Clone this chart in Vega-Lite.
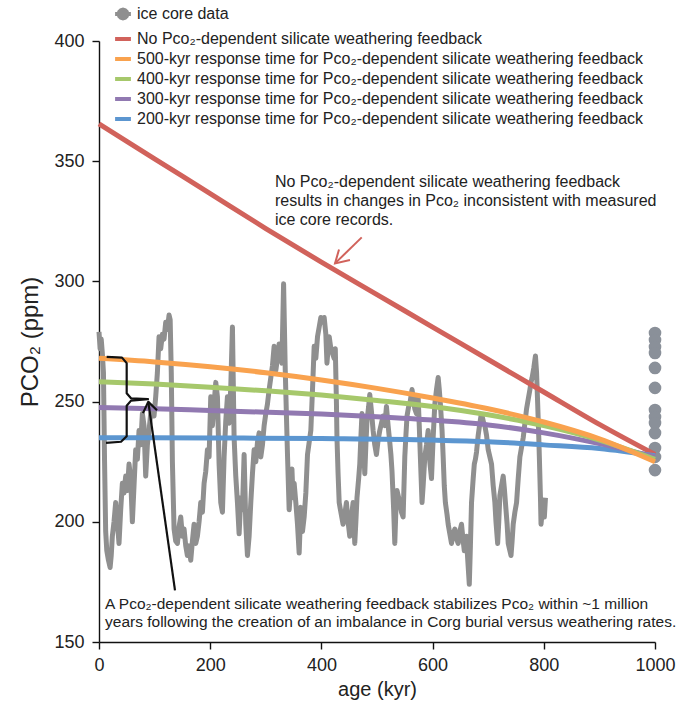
{
  "$schema": "https://vega.github.io/schema/vega-lite/v6.json",
  "width": 556,
  "height": 601,
  "autosize": {"type": "none"},
  "padding": {"left": 99, "top": 41, "right": 29, "bottom": 61},
  "config": {
    "view": {"stroke": null},
    "font": "Liberation Sans",
    "axis": {"domainColor": "#111", "tickColor": "#111", "labelColor": "#222", "titleColor": "#222", "domainWidth": 1.4, "tickWidth": 1.4, "grid": false, "labelFont": "Liberation Sans", "titleFont": "Liberation Sans", "titleFontWeight": "normal"}
  },
  "datasets": {
    "ice": [
      {"kyr":0,"ppm":279},{"kyr":2,"ppm":272},{"kyr":4,"ppm":276},{"kyr":6,"ppm":270},{"kyr":8,"ppm":262},{"kyr":10,"ppm":225},{"kyr":12,"ppm":196},{"kyr":14,"ppm":188},{"kyr":17,"ppm":184},{"kyr":20,"ppm":181},{"kyr":22,"ppm":186},{"kyr":24,"ppm":194},{"kyr":27,"ppm":200},{"kyr":30,"ppm":208},{"kyr":33,"ppm":200},{"kyr":36,"ppm":191},{"kyr":39,"ppm":205},{"kyr":42,"ppm":216},{"kyr":45,"ppm":212},{"kyr":48,"ppm":219},{"kyr":51,"ppm":213},{"kyr":54,"ppm":224},{"kyr":57,"ppm":218},{"kyr":60,"ppm":200},{"kyr":63,"ppm":215},{"kyr":66,"ppm":230},{"kyr":69,"ppm":226},{"kyr":72,"ppm":238},{"kyr":75,"ppm":232},{"kyr":78,"ppm":245},{"kyr":81,"ppm":240},{"kyr":84,"ppm":219},{"kyr":87,"ppm":232},{"kyr":90,"ppm":238},{"kyr":93,"ppm":245},{"kyr":96,"ppm":248},{"kyr":99,"ppm":244},{"kyr":102,"ppm":252},{"kyr":105,"ppm":262},{"kyr":108,"ppm":277},{"kyr":111,"ppm":272},{"kyr":114,"ppm":278},{"kyr":117,"ppm":276},{"kyr":120,"ppm":283},{"kyr":123,"ppm":280},{"kyr":126,"ppm":286},{"kyr":128,"ppm":284},{"kyr":130,"ppm":262},{"kyr":132,"ppm":225},{"kyr":135,"ppm":197},{"kyr":138,"ppm":192},{"kyr":141,"ppm":191},{"kyr":144,"ppm":198},{"kyr":147,"ppm":202},{"kyr":150,"ppm":194},{"kyr":153,"ppm":197},{"kyr":156,"ppm":190},{"kyr":159,"ppm":186},{"kyr":162,"ppm":190},{"kyr":165,"ppm":184},{"kyr":168,"ppm":192},{"kyr":171,"ppm":199},{"kyr":174,"ppm":191},{"kyr":177,"ppm":194},{"kyr":180,"ppm":200},{"kyr":183,"ppm":208},{"kyr":186,"ppm":204},{"kyr":189,"ppm":216},{"kyr":192,"ppm":221},{"kyr":195,"ppm":230},{"kyr":198,"ppm":227},{"kyr":201,"ppm":252},{"kyr":204,"ppm":240},{"kyr":207,"ppm":249},{"kyr":210,"ppm":258},{"kyr":213,"ppm":252},{"kyr":216,"ppm":224},{"kyr":219,"ppm":208},{"kyr":222,"ppm":204},{"kyr":225,"ppm":227},{"kyr":228,"ppm":242},{"kyr":231,"ppm":252},{"kyr":234,"ppm":241},{"kyr":237,"ppm":256},{"kyr":240,"ppm":281},{"kyr":243,"ppm":235},{"kyr":246,"ppm":219},{"kyr":249,"ppm":208},{"kyr":252,"ppm":195},{"kyr":255,"ppm":210},{"kyr":258,"ppm":205},{"kyr":261,"ppm":228},{"kyr":264,"ppm":199},{"kyr":267,"ppm":186},{"kyr":270,"ppm":194},{"kyr":273,"ppm":208},{"kyr":276,"ppm":220},{"kyr":279,"ppm":230},{"kyr":282,"ppm":225},{"kyr":285,"ppm":233},{"kyr":288,"ppm":237},{"kyr":291,"ppm":227},{"kyr":294,"ppm":232},{"kyr":297,"ppm":240},{"kyr":300,"ppm":245},{"kyr":303,"ppm":249},{"kyr":306,"ppm":255},{"kyr":309,"ppm":260},{"kyr":312,"ppm":265},{"kyr":315,"ppm":273},{"kyr":318,"ppm":263},{"kyr":321,"ppm":268},{"kyr":324,"ppm":274},{"kyr":327,"ppm":270},{"kyr":329,"ppm":266},{"kyr":332,"ppm":299},{"kyr":335,"ppm":263},{"kyr":337,"ppm":245},{"kyr":339,"ppm":228},{"kyr":342,"ppm":205},{"kyr":345,"ppm":215},{"kyr":347,"ppm":222},{"kyr":349,"ppm":210},{"kyr":351,"ppm":216},{"kyr":354,"ppm":208},{"kyr":357,"ppm":199},{"kyr":360,"ppm":187},{"kyr":363,"ppm":206},{"kyr":366,"ppm":196},{"kyr":369,"ppm":202},{"kyr":372,"ppm":212},{"kyr":375,"ppm":228},{"kyr":378,"ppm":233},{"kyr":381,"ppm":238},{"kyr":384,"ppm":255},{"kyr":387,"ppm":273},{"kyr":390,"ppm":268},{"kyr":393,"ppm":277},{"kyr":396,"ppm":281},{"kyr":399,"ppm":285},{"kyr":402,"ppm":283},{"kyr":405,"ppm":285},{"kyr":408,"ppm":278},{"kyr":410,"ppm":266},{"kyr":412,"ppm":272},{"kyr":414,"ppm":277},{"kyr":417,"ppm":272},{"kyr":420,"ppm":270},{"kyr":423,"ppm":268},{"kyr":425,"ppm":272},{"kyr":427,"ppm":250},{"kyr":428,"ppm":235},{"kyr":430,"ppm":220},{"kyr":432,"ppm":208},{"kyr":435,"ppm":204},{"kyr":439,"ppm":199},{"kyr":442,"ppm":203},{"kyr":445,"ppm":208},{"kyr":448,"ppm":200},{"kyr":451,"ppm":194},{"kyr":454,"ppm":202},{"kyr":457,"ppm":208},{"kyr":460,"ppm":191},{"kyr":462,"ppm":200},{"kyr":464,"ppm":210},{"kyr":467,"ppm":218},{"kyr":469,"ppm":224},{"kyr":471,"ppm":235},{"kyr":473,"ppm":245},{"kyr":476,"ppm":232},{"kyr":478,"ppm":220},{"kyr":480,"ppm":232},{"kyr":482,"ppm":242},{"kyr":485,"ppm":248},{"kyr":487,"ppm":253},{"kyr":490,"ppm":246},{"kyr":493,"ppm":238},{"kyr":496,"ppm":232},{"kyr":499,"ppm":228},{"kyr":502,"ppm":234},{"kyr":505,"ppm":238},{"kyr":508,"ppm":241},{"kyr":511,"ppm":244},{"kyr":514,"ppm":240},{"kyr":517,"ppm":248},{"kyr":520,"ppm":240},{"kyr":523,"ppm":233},{"kyr":525,"ppm":228},{"kyr":527,"ppm":221},{"kyr":530,"ppm":205},{"kyr":532,"ppm":191},{"kyr":534,"ppm":205},{"kyr":536,"ppm":213},{"kyr":539,"ppm":210},{"kyr":541,"ppm":208},{"kyr":544,"ppm":204},{"kyr":547,"ppm":202},{"kyr":550,"ppm":227},{"kyr":552,"ppm":236},{"kyr":554,"ppm":244},{"kyr":557,"ppm":248},{"kyr":559,"ppm":249},{"kyr":561,"ppm":252},{"kyr":563,"ppm":255},{"kyr":566,"ppm":250},{"kyr":568,"ppm":247},{"kyr":571,"ppm":245},{"kyr":574,"ppm":252},{"kyr":576,"ppm":240},{"kyr":578,"ppm":227},{"kyr":581,"ppm":208},{"kyr":583,"ppm":215},{"kyr":586,"ppm":227},{"kyr":589,"ppm":232},{"kyr":592,"ppm":238},{"kyr":595,"ppm":225},{"kyr":598,"ppm":218},{"kyr":601,"ppm":235},{"kyr":604,"ppm":249},{"kyr":607,"ppm":255},{"kyr":610,"ppm":260},{"kyr":612,"ppm":255},{"kyr":614,"ppm":249},{"kyr":617,"ppm":238},{"kyr":619,"ppm":227},{"kyr":621,"ppm":215},{"kyr":623,"ppm":208},{"kyr":626,"ppm":203},{"kyr":628,"ppm":199},{"kyr":631,"ppm":195},{"kyr":634,"ppm":191},{"kyr":637,"ppm":195},{"kyr":640,"ppm":197},{"kyr":643,"ppm":193},{"kyr":646,"ppm":191},{"kyr":649,"ppm":196},{"kyr":652,"ppm":199},{"kyr":655,"ppm":192},{"kyr":657,"ppm":188},{"kyr":659,"ppm":192},{"kyr":661,"ppm":194},{"kyr":663,"ppm":185},{"kyr":666,"ppm":174},{"kyr":668,"ppm":190},{"kyr":670,"ppm":208},{"kyr":673,"ppm":218},{"kyr":675,"ppm":224},{"kyr":677,"ppm":226},{"kyr":679,"ppm":229},{"kyr":682,"ppm":236},{"kyr":685,"ppm":241},{"kyr":687,"ppm":244},{"kyr":689,"ppm":244},{"kyr":692,"ppm":241},{"kyr":694,"ppm":240},{"kyr":697,"ppm":236},{"kyr":700,"ppm":230},{"kyr":703,"ppm":227},{"kyr":706,"ppm":224},{"kyr":709,"ppm":215},{"kyr":712,"ppm":208},{"kyr":714,"ppm":200},{"kyr":717,"ppm":191},{"kyr":719,"ppm":200},{"kyr":721,"ppm":211},{"kyr":724,"ppm":215},{"kyr":727,"ppm":219},{"kyr":729,"ppm":214},{"kyr":731,"ppm":208},{"kyr":734,"ppm":199},{"kyr":736,"ppm":191},{"kyr":739,"ppm":188},{"kyr":741,"ppm":186},{"kyr":743,"ppm":192},{"kyr":745,"ppm":199},{"kyr":748,"ppm":204},{"kyr":751,"ppm":208},{"kyr":754,"ppm":218},{"kyr":757,"ppm":227},{"kyr":760,"ppm":231},{"kyr":763,"ppm":235},{"kyr":766,"ppm":241},{"kyr":769,"ppm":247},{"kyr":772,"ppm":251},{"kyr":775,"ppm":255},{"kyr":777,"ppm":258},{"kyr":779,"ppm":260},{"kyr":782,"ppm":264},{"kyr":785,"ppm":269},{"kyr":787,"ppm":262},{"kyr":789,"ppm":249},{"kyr":791,"ppm":235},{"kyr":792,"ppm":227},{"kyr":794,"ppm":210},{"kyr":795,"ppm":199},{"kyr":797,"ppm":204},{"kyr":799,"ppm":208},{"kyr":801,"ppm":202},{"kyr":803,"ppm":210}
    ],
    "dots": [
      {"kyr":1000,"ppm":278.5},{"kyr":1000,"ppm":275.6},{"kyr":1000,"ppm":272.7},{"kyr":1000,"ppm":270.2},{"kyr":1000,"ppm":264},{"kyr":1000,"ppm":255.7},{"kyr":1000,"ppm":246.5},{"kyr":1000,"ppm":243.6},{"kyr":1000,"ppm":241.1},{"kyr":1000,"ppm":236.9},{"kyr":1000,"ppm":230.7},{"kyr":1000,"ppm":227},{"kyr":1000,"ppm":221.5}
    ],
    "model": [
      {"s":"No Pco₂-dependent silicate weathering feedback","kyr":0,"ppm":365.5},
      {"s":"No Pco₂-dependent silicate weathering feedback","kyr":100,"ppm":351},
      {"s":"No Pco₂-dependent silicate weathering feedback","kyr":200,"ppm":336.5},
      {"s":"No Pco₂-dependent silicate weathering feedback","kyr":300,"ppm":322},
      {"s":"No Pco₂-dependent silicate weathering feedback","kyr":400,"ppm":308},
      {"s":"No Pco₂-dependent silicate weathering feedback","kyr":500,"ppm":294.5},
      {"s":"No Pco₂-dependent silicate weathering feedback","kyr":600,"ppm":281},
      {"s":"No Pco₂-dependent silicate weathering feedback","kyr":700,"ppm":267.5},
      {"s":"No Pco₂-dependent silicate weathering feedback","kyr":800,"ppm":254},
      {"s":"No Pco₂-dependent silicate weathering feedback","kyr":900,"ppm":240.5},
      {"s":"No Pco₂-dependent silicate weathering feedback","kyr":1000,"ppm":228},
      {"s":"200-kyr response time for Pco₂-dependent silicate weathering feedback","kyr":0,"ppm":235},
      {"s":"200-kyr response time for Pco₂-dependent silicate weathering feedback","kyr":200,"ppm":234.9},
      {"s":"200-kyr response time for Pco₂-dependent silicate weathering feedback","kyr":400,"ppm":234.6},
      {"s":"200-kyr response time for Pco₂-dependent silicate weathering feedback","kyr":600,"ppm":234},
      {"s":"200-kyr response time for Pco₂-dependent silicate weathering feedback","kyr":700,"ppm":233.3},
      {"s":"200-kyr response time for Pco₂-dependent silicate weathering feedback","kyr":800,"ppm":232},
      {"s":"200-kyr response time for Pco₂-dependent silicate weathering feedback","kyr":900,"ppm":230.5},
      {"s":"200-kyr response time for Pco₂-dependent silicate weathering feedback","kyr":1000,"ppm":227.5},
      {"s":"300-kyr response time for Pco₂-dependent silicate weathering feedback","kyr":0,"ppm":247.5},
      {"s":"300-kyr response time for Pco₂-dependent silicate weathering feedback","kyr":100,"ppm":247},
      {"s":"300-kyr response time for Pco₂-dependent silicate weathering feedback","kyr":200,"ppm":246.3},
      {"s":"300-kyr response time for Pco₂-dependent silicate weathering feedback","kyr":300,"ppm":245.6},
      {"s":"300-kyr response time for Pco₂-dependent silicate weathering feedback","kyr":400,"ppm":244.8},
      {"s":"300-kyr response time for Pco₂-dependent silicate weathering feedback","kyr":500,"ppm":243.7},
      {"s":"300-kyr response time for Pco₂-dependent silicate weathering feedback","kyr":600,"ppm":242.3},
      {"s":"300-kyr response time for Pco₂-dependent silicate weathering feedback","kyr":700,"ppm":240.3},
      {"s":"300-kyr response time for Pco₂-dependent silicate weathering feedback","kyr":800,"ppm":237},
      {"s":"300-kyr response time for Pco₂-dependent silicate weathering feedback","kyr":900,"ppm":232.5},
      {"s":"300-kyr response time for Pco₂-dependent silicate weathering feedback","kyr":1000,"ppm":227},
      {"s":"400-kyr response time for Pco₂-dependent silicate weathering feedback","kyr":0,"ppm":258.3},
      {"s":"400-kyr response time for Pco₂-dependent silicate weathering feedback","kyr":100,"ppm":257.3},
      {"s":"400-kyr response time for Pco₂-dependent silicate weathering feedback","kyr":200,"ppm":256},
      {"s":"400-kyr response time for Pco₂-dependent silicate weathering feedback","kyr":300,"ppm":254.5},
      {"s":"400-kyr response time for Pco₂-dependent silicate weathering feedback","kyr":400,"ppm":252.7},
      {"s":"400-kyr response time for Pco₂-dependent silicate weathering feedback","kyr":500,"ppm":250.5},
      {"s":"400-kyr response time for Pco₂-dependent silicate weathering feedback","kyr":600,"ppm":248},
      {"s":"400-kyr response time for Pco₂-dependent silicate weathering feedback","kyr":700,"ppm":244.5},
      {"s":"400-kyr response time for Pco₂-dependent silicate weathering feedback","kyr":800,"ppm":240},
      {"s":"400-kyr response time for Pco₂-dependent silicate weathering feedback","kyr":900,"ppm":234},
      {"s":"400-kyr response time for Pco₂-dependent silicate weathering feedback","kyr":1000,"ppm":226},
      {"s":"500-kyr response time for Pco₂-dependent silicate weathering feedback","kyr":0,"ppm":268},
      {"s":"500-kyr response time for Pco₂-dependent silicate weathering feedback","kyr":100,"ppm":266.5},
      {"s":"500-kyr response time for Pco₂-dependent silicate weathering feedback","kyr":200,"ppm":264.5},
      {"s":"500-kyr response time for Pco₂-dependent silicate weathering feedback","kyr":300,"ppm":262},
      {"s":"500-kyr response time for Pco₂-dependent silicate weathering feedback","kyr":400,"ppm":259},
      {"s":"500-kyr response time for Pco₂-dependent silicate weathering feedback","kyr":500,"ppm":255.5},
      {"s":"500-kyr response time for Pco₂-dependent silicate weathering feedback","kyr":600,"ppm":251.5},
      {"s":"500-kyr response time for Pco₂-dependent silicate weathering feedback","kyr":700,"ppm":247},
      {"s":"500-kyr response time for Pco₂-dependent silicate weathering feedback","kyr":800,"ppm":241.5},
      {"s":"500-kyr response time for Pco₂-dependent silicate weathering feedback","kyr":900,"ppm":234.5},
      {"s":"500-kyr response time for Pco₂-dependent silicate weathering feedback","kyr":1000,"ppm":225}
    ],
    "blackmarks": [
      {"g":"brace","o":1,"kyr":13.8,"ppm":268.6},{"g":"brace","o":2,"kyr":41.4,"ppm":268.3},{"g":"brace","o":3,"kyr":49.8,"ppm":266.0},{"g":"brace","o":4,"kyr":49.8,"ppm":253.5},{"g":"brace","o":5,"kyr":57.6,"ppm":251.4},{"g":"brace","o":6,"kyr":88.1,"ppm":251.0},{"g":"brace","o":7,"kyr":57.6,"ppm":250.4},{"g":"brace","o":8,"kyr":49.8,"ppm":248.3},{"g":"brace","o":9,"kyr":49.8,"ppm":235.6},{"g":"brace","o":10,"kyr":39.6,"ppm":233.3},{"g":"brace","o":11,"kyr":12.6,"ppm":232.8},
      {"g":"shaft","o":1,"kyr":136.7,"ppm":171.5},{"g":"shaft","o":2,"kyr":88.7,"ppm":249.9},
      {"g":"head","o":1,"kyr":79.1,"ppm":245.2},{"g":"head","o":2,"kyr":88.7,"ppm":249.9},{"g":"head","o":3,"kyr":104.3,"ppm":246.4}
    ],
    "redmarks": [
      {"g":"shaft","o":1,"kyr":472.5,"ppm":318.3},{"g":"shaft","o":2,"kyr":424.5,"ppm":307.5},
      {"g":"head","o":1,"kyr":451.4,"ppm":308.9},{"g":"head","o":2,"kyr":424.5,"ppm":307.5},{"g":"head","o":3,"kyr":431.7,"ppm":313.3}
    ]
  },
  "layer": [
    {
      "data": {"name": "ice"},
      "mark": {"type": "line", "strokeWidth": 5, "strokeJoin": "round", "color": "#8f8f8f"},
      "encoding": {
        "x": {"field": "kyr", "type": "quantitative", "scale": {"domain": [0, 1000], "nice": false},
          "axis": {"values": [0, 200, 400, 600, 800, 1000], "format": "d", "title": "age (kyr)", "labelFontSize": 18, "titleFontSize": 20, "tickSize": 7, "labelPadding": 7, "titlePadding": 5, "labelFlush": false}},
        "y": {"field": "ppm", "type": "quantitative", "scale": {"domain": [150, 400], "nice": false, "zero": false},
          "axis": {"values": [150, 200, 250, 300, 350, 400], "title": "PCO₂ (ppm)", "labelFontSize": 18, "titleFontSize": 24, "tickSize": 7, "labelPadding": 8, "titlePadding": 11}}
      }
    },
    {
      "data": {"name": "dots"},
      "mark": {"type": "circle", "size": 160, "opacity": 1},
      "encoding": {
        "x": {"field": "kyr", "type": "quantitative"},
        "y": {"field": "ppm", "type": "quantitative"},
        "color": {"value": "#8a9099"}
      }
    },
    {
      "data": {"name": "model"},
      "mark": {"type": "line", "strokeWidth": 5, "interpolate": "monotone", "strokeCap": "butt"},
      "encoding": {
        "x": {"field": "kyr", "type": "quantitative"},
        "y": {"field": "ppm", "type": "quantitative"},
        "color": {"field": "s", "type": "nominal",
          "scale": {"domain": ["ice core data", "No Pco₂-dependent silicate weathering feedback", "500-kyr response time for Pco₂-dependent silicate weathering feedback", "400-kyr response time for Pco₂-dependent silicate weathering feedback", "300-kyr response time for Pco₂-dependent silicate weathering feedback", "200-kyr response time for Pco₂-dependent silicate weathering feedback"],
                    "range": ["#8f8f8f", "#d1625b", "#f9a24e", "#a6c86b", "#9179b1", "#5c96d0"]},
          "legend": {
            "title": null, "orient": "none", "legendX": 14, "legendY": -37, "padding": 0,
            "symbolType": "stroke", "symbolSize": 250, "symbolStrokeWidth": 4,
            "labelFontSize": 16, "labelFont": "Liberation Sans", "labelColor": "#222", "labelLimit": 700, "labelOffset": 4, "rowPadding": 2,
            "encode": {"symbols": {"update": {
              "shape": [{"test": "datum.label === 'ice core data'", "value": "M0.55,0L0.476,0.275L0.275,0.476L0,0.55L-0.275,0.476L-0.476,0.275L-0.55,0L-0.476,-0.275L-0.275,-0.476L0,-0.55L0.275,-0.476L0.476,-0.275ZM-1,0L1,0"}, {"value": "stroke"}],
              "fill": [{"test": "datum.label === 'ice core data'", "value": "#8a9099"}, {"value": "transparent"}]
            }}}
          }
        }
      }
    },
    {
      "data": {"name": "blackmarks"},
      "mark": {"type": "line", "strokeWidth": 2.2, "color": "#111", "strokeJoin": "round"},
      "encoding": {
        "x": {"field": "kyr", "type": "quantitative"},
        "y": {"field": "ppm", "type": "quantitative"},
        "detail": {"field": "g", "type": "nominal"},
        "order": {"field": "o", "type": "quantitative"}
      }
    },
    {
      "data": {"name": "redmarks"},
      "mark": {"type": "line", "strokeWidth": 2, "color": "#d1625b"},
      "encoding": {
        "x": {"field": "kyr", "type": "quantitative"},
        "y": {"field": "ppm", "type": "quantitative"},
        "detail": {"field": "g", "type": "nominal"},
        "order": {"field": "o", "type": "quantitative"}
      }
    },
    {
      "data": {"values": [{"t": "note"}]},
      "mark": {"type": "text", "align": "left", "baseline": "top", "fontSize": 16, "lineHeight": 19, "color": "#222", "font": "Liberation Sans"},
      "encoding": {
        "x": {"datum": 316.5},
        "y": {"datum": 344.5},
        "text": {"value": ["No Pco₂-dependent silicate weathering feedback", "results in changes in Pco₂ inconsistent with measured", "ice core records."]}
      }
    },
    {
      "data": {"values": [{"t": "note"}]},
      "mark": {"type": "text", "align": "left", "baseline": "top", "fontSize": 15.5, "lineHeight": 18, "color": "#222", "font": "Liberation Sans"},
      "encoding": {
        "x": {"datum": 10.8},
        "y": {"datum": 168.6},
        "text": {"value": ["A Pco₂-dependent silicate weathering feedback stabilizes Pco₂ within ~1 million", "years following the creation of an imbalance in Corg burial versus weathering rates."]}
      }
    }
  ]
}
